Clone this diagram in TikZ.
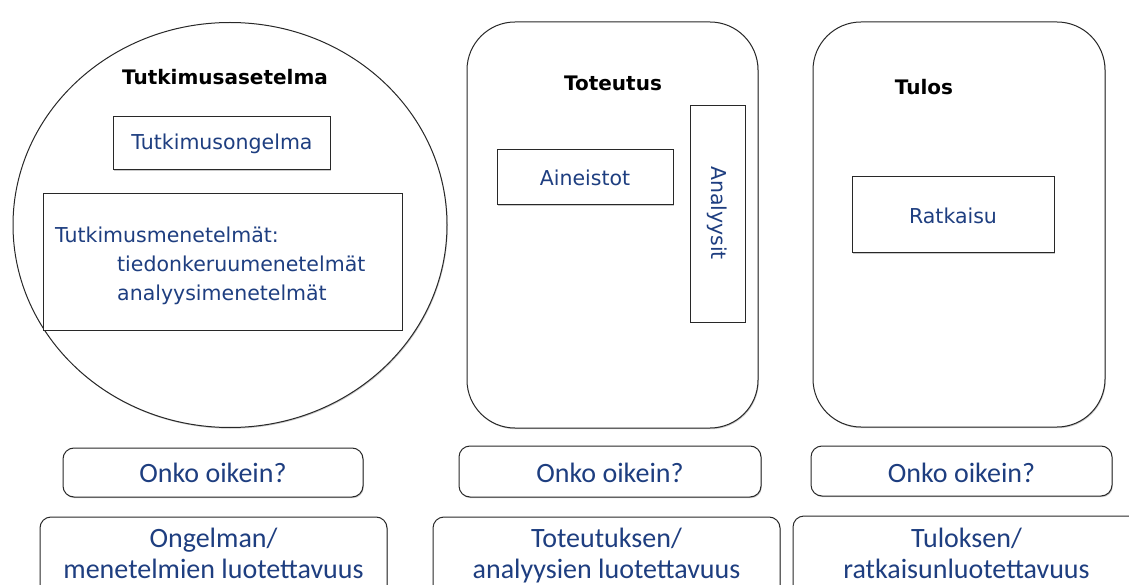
\documentclass[tikz,border=0pt]{standalone}
\usepackage{fontspec}
\setmainfont{DejaVu Sans}
\newfontfamily\calfont{Carlito}
\usetikzlibrary{shapes.geometric,shadows}
\definecolor{tblue}{RGB}{30,62,128}
\definecolor{lgray}{RGB}{40,40,40}
\tikzset{
  sh/.style={drop shadow={shadow xshift=0.8pt,shadow yshift=-1.2pt,opacity=0.35,fill=black!60}},
  bigbox/.style={draw=lgray,line width=1pt,rounded corners=48pt,fill=white,inner sep=0pt,sh},
  inbox/.style={draw=lgray,line width=1pt,fill=white,inner sep=0pt,sh},
  qbox/.style={draw=lgray,line width=1pt,rounded corners=11pt,fill=white,inner sep=0pt,sh},
  title/.style={font=\fontsize{20}{24}\selectfont\bfseries,text=black,inner sep=0pt},
  btxt/.style={font=\fontsize{20.5}{25}\selectfont,text=tblue,inner sep=0pt},
  ctxt/.style={font=\calfont\fontsize{28}{32}\selectfont,text=tblue,inner sep=0pt},
}
\begin{document}
\begin{tikzpicture}[x=1pt,y=-1pt]
\useasboundingbox (0,0) rectangle (1129,585);
\clip (0,0) rectangle (1129,585);
% column 1
\node[ellipse,draw=lgray,line width=1pt,minimum width=434pt,minimum height=405pt,inner sep=0pt,sh,fill=white] (circ) at (230,225) {};
\node[title] (t1) at (225,77) {Tutkimusasetelma};
\node[inbox,minimum width=217pt,minimum height=53pt] (ongelma) at (221.5,143.5) {};
\node[btxt] (ongelmat) at (222,144) {Tutkimusongelma};
\node[inbox,minimum width=359pt,minimum height=136pt] (menet) at (222.5,262) {};
\node[btxt,anchor=base west] (m1) at (55,243) {Tutkimusmenetelmät:};
\node[btxt,anchor=base west] (m2) at (117,272) {tiedonkeruumenetelmät};
\node[btxt,anchor=base west] (m3) at (117,300) {analyysimenetelmät};
% column 2
\node[bigbox,minimum width=291pt,minimum height=406pt] (tot) at (612.5,225) {};
\node[title] (t2) at (613,83) {Toteutus};
\node[inbox,minimum width=176pt,minimum height=55pt] (aine) at (585,177.5) {};
\node[btxt] (ainet) at (585,178) {Aineistot};
\node[inbox,minimum width=55pt,minimum height=216pt] (anal) at (717.5,214) {};
\node[btxt,rotate=-90] (analt) at (717,213) {Analyysit};
% column 3
\node[bigbox,minimum width=292pt,minimum height=405pt] (tul) at (959,224.5) {};
\node[title] (t3) at (924,87) {Tulos};
\node[inbox,minimum width=202pt,minimum height=76pt] (ratk) at (953,215) {};
\node[btxt] (ratkt) at (953,216) {Ratkaisu};
% question boxes
\node[qbox,minimum width=300pt,minimum height=49pt] (q1) at (213,472.5) {};
\node[qbox,minimum width=302pt,minimum height=51pt] (q2) at (610,471.5) {};
\node[qbox,minimum width=301pt,minimum height=50pt] (q3) at (961.5,471) {};
\node[ctxt,anchor=base] (q1t) at (213,482) {Onko oikein?};
\node[ctxt,anchor=base] (q2t) at (610,482) {Onko oikein?};
\node[ctxt,anchor=base] (q3t) at (961.5,482) {Onko oikein?};
% reliability boxes
\node[qbox,minimum width=347pt,minimum height=90pt] (r1) at (213.5,562) {};
\node[qbox,minimum width=347pt,minimum height=90pt] (r2) at (606.5,562) {};
\node[qbox,minimum width=347pt,minimum height=90pt] (r3) at (966.5,561) {};
\node[ctxt,anchor=base] (r1a) at (213.5,547) {Ongelman/};
\node[ctxt,anchor=base] (r1b) at (213.5,578) {menetelmien luotettavuus};
\node[ctxt,anchor=base] (r2a) at (606.5,547) {Toteutuksen/};
\node[ctxt,anchor=base] (r2b) at (606.5,578) {analyysien luotettavuus};
\node[ctxt,anchor=base] (r3a) at (966.5,547) {Tuloksen/};
\node[ctxt,anchor=base] (r3b) at (966.5,578) {ratkaisunluotettavuus};
\end{tikzpicture}
\end{document}
